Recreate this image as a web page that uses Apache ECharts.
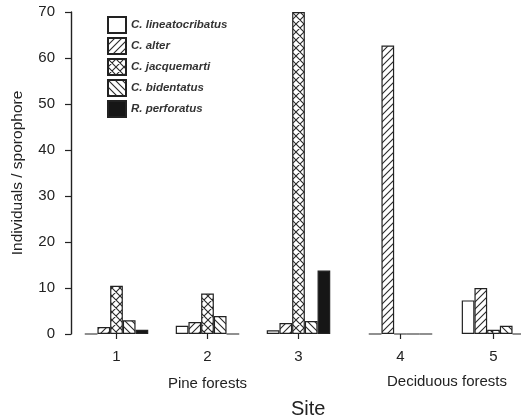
<!DOCTYPE html>
<html>
<head>
<meta charset="utf-8">
<script src="https://cdn.jsdelivr.net/npm/echarts@6/dist/echarts.min.js"></script>
<style>html,body{margin:0;padding:0;background:#fff}#c{width:521px;height:418px}</style>
</head>
<body>
<div id="c"></div>
<script>
const sites = ['1', '2', '3', '4', '5'];
const forestNames = ['Pine forests', 'Deciduous forests'];
const forestSites = [['1', '2', '3'], ['4', '5']];
const species = ['C. lineatocribatus', 'C. alter', 'C. jacquemarti', 'C. bidentatus', 'R. perforatus'];
const lineatocribatus = [0, 1.8, 0.8, 0, 7.3];
const alter = [1.5, 2.6, 2.4, 62.7, 10.0];
const jacquemarti = [10.5, 8.8, 70, 0, 0.9];
const bidentatus = [3.0, 3.9, 2.8, 0, 1.8];
const perforatus = [0.9, 0, 13.8, 0, 0];
const yTicks = [0, 10, 20, 30, 40, 50, 60, 70];
const yName = 'Individuals / sporophore';
const xName = 'Site';

const values = [lineatocribatus, alter, jacquemarti, bidentatus, perforatus];

function pattern(kind) {
  const s = kind === 'x' ? 8 : 7;
  const c = document.createElement('canvas');
  c.width = s; c.height = s;
  const g = c.getContext('2d');
  g.fillStyle = '#fff'; g.fillRect(0, 0, s, s);
  g.strokeStyle = '#2a2a2a'; g.lineWidth = 1.1;
  g.beginPath();
  if (kind === '/' || kind === 'x') {
    g.moveTo(-1, s + 1); g.lineTo(s + 1, -1);
    g.moveTo(-1, 1); g.lineTo(1, -1);
    g.moveTo(s - 1, s + 1); g.lineTo(s + 1, s - 1);
  }
  if (kind === '\\' || kind === 'x') {
    g.moveTo(-1, -1); g.lineTo(s + 1, s + 1);
    g.moveTo(s - 1, -1); g.lineTo(s + 1, 1);
    g.moveTo(-1, s - 1); g.lineTo(1, s + 1);
  }
  g.stroke();
  return { image: c, repeat: 'repeat' };
}
const fills = ['#ffffff', pattern('/'), pattern('x'), pattern('\\'), '#161616'];

const textColor = '#222';
const font = 'Liberation Sans, Arial, sans-serif';

const series = [];
forestSites.forEach((fs, gi) => {
  species.forEach((name, si) => {
    series.push({
      type: 'bar',
      name: name,
      xAxisIndex: gi,
      yAxisIndex: gi,
      barWidth: 12.7,
      barGap: '0%',
      data: fs.map(s => values[si][sites.indexOf(s)]),
      itemStyle: { color: fills[si], borderColor: '#222', borderWidth: 1.2 },
      emphasis: { disabled: true },
      animation: false
    });
  });
});

const grids = [
  { left: 71, width: 273, top: 12, bottom: 84, outerBoundsMode: 'none', containLabel: false },
  { left: 354, width: 186, top: 12, bottom: 84, outerBoundsMode: 'none', containLabel: false }
];
const nameGaps = [42, 40];

const xAxes = forestSites.map((fs, gi) => ({
  type: 'category',
  gridIndex: gi,
  data: fs,
  name: forestNames[gi],
  nameLocation: 'middle',
  nameGap: nameGaps[gi],
  nameTextStyle: { fontSize: 15, color: textColor, fontFamily: font },
  axisLine: { show: false },
  axisTick: { show: true, alignWithLabel: true, length: 5, lineStyle: { color: '#222', width: 1.2 } },
  axisLabel: { fontSize: 15, color: textColor, fontFamily: font, margin: 15 },
  splitLine: { show: false }
}));

const yAxes = [0, 1].map(gi => ({
  type: 'value',
  gridIndex: gi,
  min: yTicks[0],
  max: yTicks[yTicks.length - 1],
  interval: yTicks[1] - yTicks[0],
  show: gi === 0,
  name: gi === 0 ? yName : '',
  nameLocation: 'middle',
  nameGap: 45,
  nameTextStyle: { fontSize: 15.5, color: textColor, fontFamily: font },
  axisLine: { show: true, lineStyle: { color: '#222', width: 1.4 } },
  axisTick: { show: true, length: 6, lineStyle: { color: '#222', width: 1.2 } },
  axisLabel: { fontSize: 15, color: textColor, fontFamily: font, margin: 16 },
  splitLine: { show: false }
}));

const chart = echarts.init(document.getElementById('c'), null, { renderer: 'canvas' });
chart.setOption({
  backgroundColor: '#fff',
  animation: false,
  grid: grids,
  xAxis: xAxes,
  yAxis: yAxes,
  legend: {
    data: species,
    orient: 'vertical',
    left: 107,
    top: 16,
    padding: 0,
    itemWidth: 18,
    itemHeight: 16,
    itemGap: 3,
    icon: 'rect',
    selectedMode: false,
    textStyle: { fontSize: 11.5, fontStyle: 'italic', fontWeight: 'bold', color: '#333', fontFamily: font }
  },
  graphic: [{
    type: 'text',
    left: 291,
    top: 399,
    style: { text: xName, fontSize: 20, fill: textColor, fontFamily: font }
  }],
  series: series
});
</script>
</body>
</html>
